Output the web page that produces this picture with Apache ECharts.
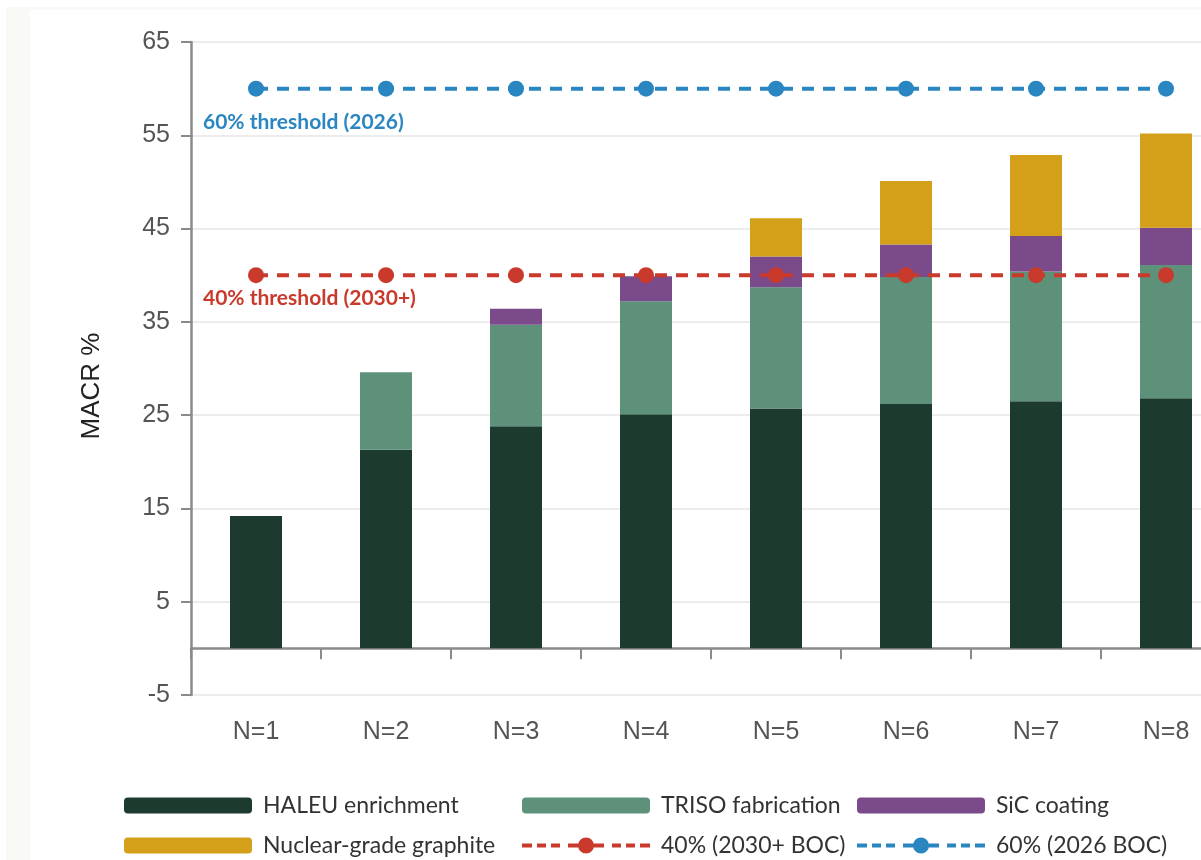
<!DOCTYPE html>
<html>
<head>
<meta charset="utf-8">
<script src="https://cdn.jsdelivr.net/npm/echarts@6/dist/echarts.min.js"></script>
<style>
html,body{margin:0;padding:0;background:#fff;}
#chart{width:1201px;height:860px;}
</style>
</head>
<body>
<div id="chart"></div>
<script>
// ---- data ----
const categories = ['N=1','N=2','N=3','N=4','N=5','N=6','N=7','N=8'];
const haleu    = [14.2, 21.3, 23.8, 25.1, 25.7, 26.2, 26.5, 26.8];
const triso    = [0, 8.3, 10.9, 12.1, 13.0, 13.6, 13.9, 14.3];
const sic      = [0, 0, 1.7, 2.7, 3.3, 3.5, 3.8, 4.0];
const graphite = [0, 0, 0, 0, 4.1, 6.8, 8.7, 10.1];
const threshold40 = [40, 40, 40, 40, 40, 40, 40, 40];
const threshold60 = [60, 60, 60, 60, 60, 60, 60, 60];
const yTicks = { min: -5, max: 65, interval: 10 };
const seriesNames = ['HALEU enrichment','TRISO fabrication','SiC coating','Nuclear-grade graphite','40% (2030+ BOC)','60% (2026 BOC)'];

const C = {
  haleu: '#1d3a2f', triso: '#5d917a', sic: '#7a4a8b', graphite: '#d4a019',
  red: '#c93a2c', blue: '#2a86c1'
};

// legend icon for the threshold lines: dashed line with a dot in the middle (128 x 16 box)
const dashedDotIcon = 'path://' +
  'M0,6h10v4h-10z M15,6h9v4h-9z M29,6h9v4h-9z ' +
  'M46,6h11v4h-11z M71,6h11v4h-11z ' +
  'M90,6h9v4h-9z M104,6h9v4h-9z M118,6h10v4h-10z ' +
  'M56,8a8,8 0 1,1 16,0a8,8 0 1,1 -16,0z ' +
  'M0,0h0.01v0.01h-0.01z M127.99,15.99h0.01v0.01h-0.01z';

const chart = echarts.init(document.getElementById('chart'), null, {renderer: 'canvas'});

function barSeries(name, data, color) {
  return {
    name, type: 'bar', stack: 'total', data,
    barWidth: 52, itemStyle: { color },
    xAxisIndex: 0, yAxisIndex: 0, z: 2
  };
}
function lineSeries(name, data, color) {
  return {
    name, type: 'line', data, xAxisIndex: 0, yAxisIndex: 0,
    symbol: 'circle', symbolSize: 16, z: 5,
    lineStyle: { color, width: 4, type: [12, 9] },
    itemStyle: { color, borderWidth: 0 }
  };
}

function legendAt(left, data) {
  return {
    orient: 'vertical', left, top: 794, padding: 0, data,
    itemWidth: 128, itemHeight: 16, itemGap: 17,
    symbolKeepAspect: false,
    itemStyle: { borderWidth: 0 },
    textStyle: { fontFamily: 'Lato', fontSize: 23, color: '#333', lineHeight: 20, padding: [0,0,0,6] },
    selectedMode: false
  };
}

const option = {
  animation: false,
  backgroundColor: '#ffffff',
  grid: { left: 191, top: 42, width: 1040, height: 653, outerBoundsMode: 'none', containLabel: false },
  xAxis: [
    {
      type: 'category', data: categories, boundaryGap: true,
      axisLine: { onZero: true, lineStyle: { color: '#8a8a8a', width: 2.5 } },
      axisTick: { show: true, length: 11, lineStyle: { color: '#8a8a8a', width: 2 } },
      axisLabel: { show: false }
    },
    {
      type: 'category', data: categories, position: 'bottom', boundaryGap: true,
      axisLine: { show: false }, axisTick: { show: false },
      axisLabel: { show: true, margin: 25, fontFamily: 'Liberation Sans', fontSize: 25, color: '#555' }
    }
  ],
  yAxis: {
    type: 'value', min: yTicks.min, max: yTicks.max, interval: yTicks.interval,
    axisLine: { show: true, lineStyle: { color: '#8a8a8a', width: 2.5 } },
    axisTick: { show: true, length: 10, lineStyle: { color: '#8a8a8a', width: 2 } },
    axisLabel: { margin: 21, fontFamily: 'Liberation Sans', fontSize: 25, color: '#555' },
    splitLine: { show: true, lineStyle: { color: '#e6e6e6', width: 1.5 } }
  },
  legend: [
    legendAt(124, [seriesNames[0], seriesNames[3]]),
    legendAt(522, [seriesNames[1], { name: seriesNames[4], icon: dashedDotIcon }]),
    legendAt(857, [seriesNames[2], { name: seriesNames[5], icon: dashedDotIcon }])
  ],
  graphic: [
    { type: 'rect', left: 6, top: 7, shape: { width: 24, height: 853 }, style: { fill: '#f9f9f5' }, z: -10, silent: true },
    { type: 'rect', left: 6, top: 7, shape: { width: 1195, height: 3 }, style: { fill: '#f9f9f5' }, z: -10, silent: true },
    {
      type: 'text', left: 203, top: 112, z: 10,
      style: { text: '60% threshold (2026)', fontFamily: 'Lato', fontWeight: 'bold', fontSize: 21, fill: C.blue }
    },
    {
      type: 'text', left: 203, top: 288, z: 10,
      style: { text: '40% threshold (2030+)', fontFamily: 'Lato', fontWeight: 'bold', fontSize: 21, fill: C.red }
    },
    {
      type: 'text', x: 92, y: 386, rotation: Math.PI / 2, z: 10,
      style: { text: 'MACR %', fontFamily: 'Liberation Sans', fontSize: 26, fill: '#222', align: 'center', verticalAlign: 'middle' }
    }
  ],
  series: [
    barSeries(seriesNames[0], haleu, C.haleu),
    barSeries(seriesNames[1], triso, C.triso),
    barSeries(seriesNames[2], sic, C.sic),
    barSeries(seriesNames[3], graphite, C.graphite),
    lineSeries(seriesNames[4], threshold40, C.red),
    lineSeries(seriesNames[5], threshold60, C.blue)
  ]
};
chart.setOption(option);
</script>
</body>
</html>
